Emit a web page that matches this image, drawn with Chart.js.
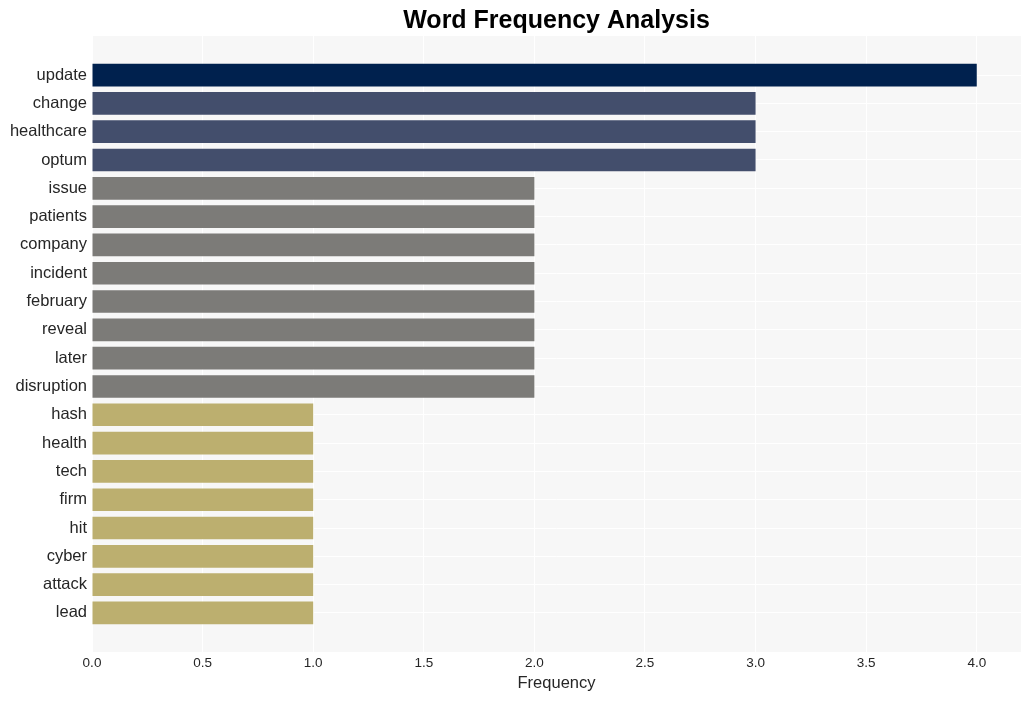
<!DOCTYPE html>
<html>
<head>
<meta charset="utf-8">
<script src="https://cdn.jsdelivr.net/npm/chart.js@4"></script>
<style>
    html, body { margin: 0; padding: 0; background: #ffffff; }
    #wrap { width: 1032px; height: 701px; }
</style>
</head>
<body>
<div id="wrap"><canvas id="word-chart"></canvas></div>
<script>
// data
const words = ['update', 'change', 'healthcare', 'optum', 'issue', 'patients', 'company', 'incident',
    'february', 'reveal', 'later', 'disruption', 'hash', 'health', 'tech', 'firm', 'hit', 'cyber',
    'attack', 'lead'];
const counts = [4, 3, 3, 3, 2, 2, 2, 2, 2, 2, 2, 2, 1, 1, 1, 1, 1, 1, 1, 1];
const xTicks = [0, 0.5, 1, 1.5, 2, 2.5, 3, 3.5, 4];

// colour per count
const palette = { 4: '#00214e', 3: '#434e6c', 2: '#7c7b78', 1: '#bcaf6f' };

// plot background
const plotBg = {
    id: 'plotBg',
    beforeDraw(chart) {
        const a = chart.chartArea;
        const ctx = chart.ctx;
        ctx.save();
        ctx.fillStyle = '#f7f7f7';
        ctx.fillRect(a.left, a.top, a.right - a.left, a.bottom - a.top);
        ctx.restore();
    }
};

const ctx = document.getElementById('word-chart').getContext('2d');
const myBarChart = new Chart(ctx, {
    type: 'bar',
    data: {
        datasets: [{
            data: counts.map((c, i) => ({ x: c, y: i })),
            backgroundColor: counts.map(c => palette[c]),
            borderWidth: 0,
            categoryPercentage: 1,
            barPercentage: 0.8
        }]
    },
    options: {
        indexAxis: 'y',
        responsive: true,
        maintainAspectRatio: false,
        animation: false,
        layout: { padding: { left: 0, right: 11, top: 0, bottom: 0 } },
        plugins: {
            legend: { display: false },
            tooltip: { enabled: false },
            title: {
                display: true,
                fullSize: false,
                text: 'Word Frequency Analysis',
                color: '#000000',
                font: { family: 'Liberation Sans, Arial, sans-serif', size: 25, weight: 'bold' },
                padding: { top: 6, bottom: 0 }
            }
        },
        scales: {
            x: {
                type: 'linear',
                min: 0,
                max: 4.2,
                border: { display: false },
                grid: { color: '#ffffff', lineWidth: 1, drawTicks: false },
                afterBuildTicks: scale => { scale.ticks = xTicks.map(v => ({ value: v })); },
                afterFit: scale => { scale.height = 49; },
                ticks: {
                    color: '#262626',
                    padding: 3,
                    font: { family: 'Liberation Sans, Arial, sans-serif', size: 13.5 },
                    callback: v => v.toFixed(1)
                },
                title: {
                    display: true,
                    text: 'Frequency',
                    color: '#262626',
                    padding: { top: 0, bottom: 8 },
                    font: { family: 'Liberation Sans, Arial, sans-serif', size: 16.5 }
                }
            },
            y: {
                type: 'linear',
                min: -1.38,
                max: words.length - 1 + 1.38,
                reverse: true,
                offset: false,
                border: { display: false },
                grid: { color: '#ffffff', lineWidth: 1, drawTicks: false, offset: false },
                afterBuildTicks: scale => { scale.ticks = words.map((w, i) => ({ value: i })); },
                afterFit: scale => { scale.width = 92; },
                ticks: {
                    color: '#262626',
                    padding: 5,
                    autoSkip: false,
                    font: { family: 'Liberation Sans, Arial, sans-serif', size: 16.5 },
                    callback: v => words[v]
                }
            }
        }
    },
    plugins: [plotBg]
});
</script>
</body>
</html>
